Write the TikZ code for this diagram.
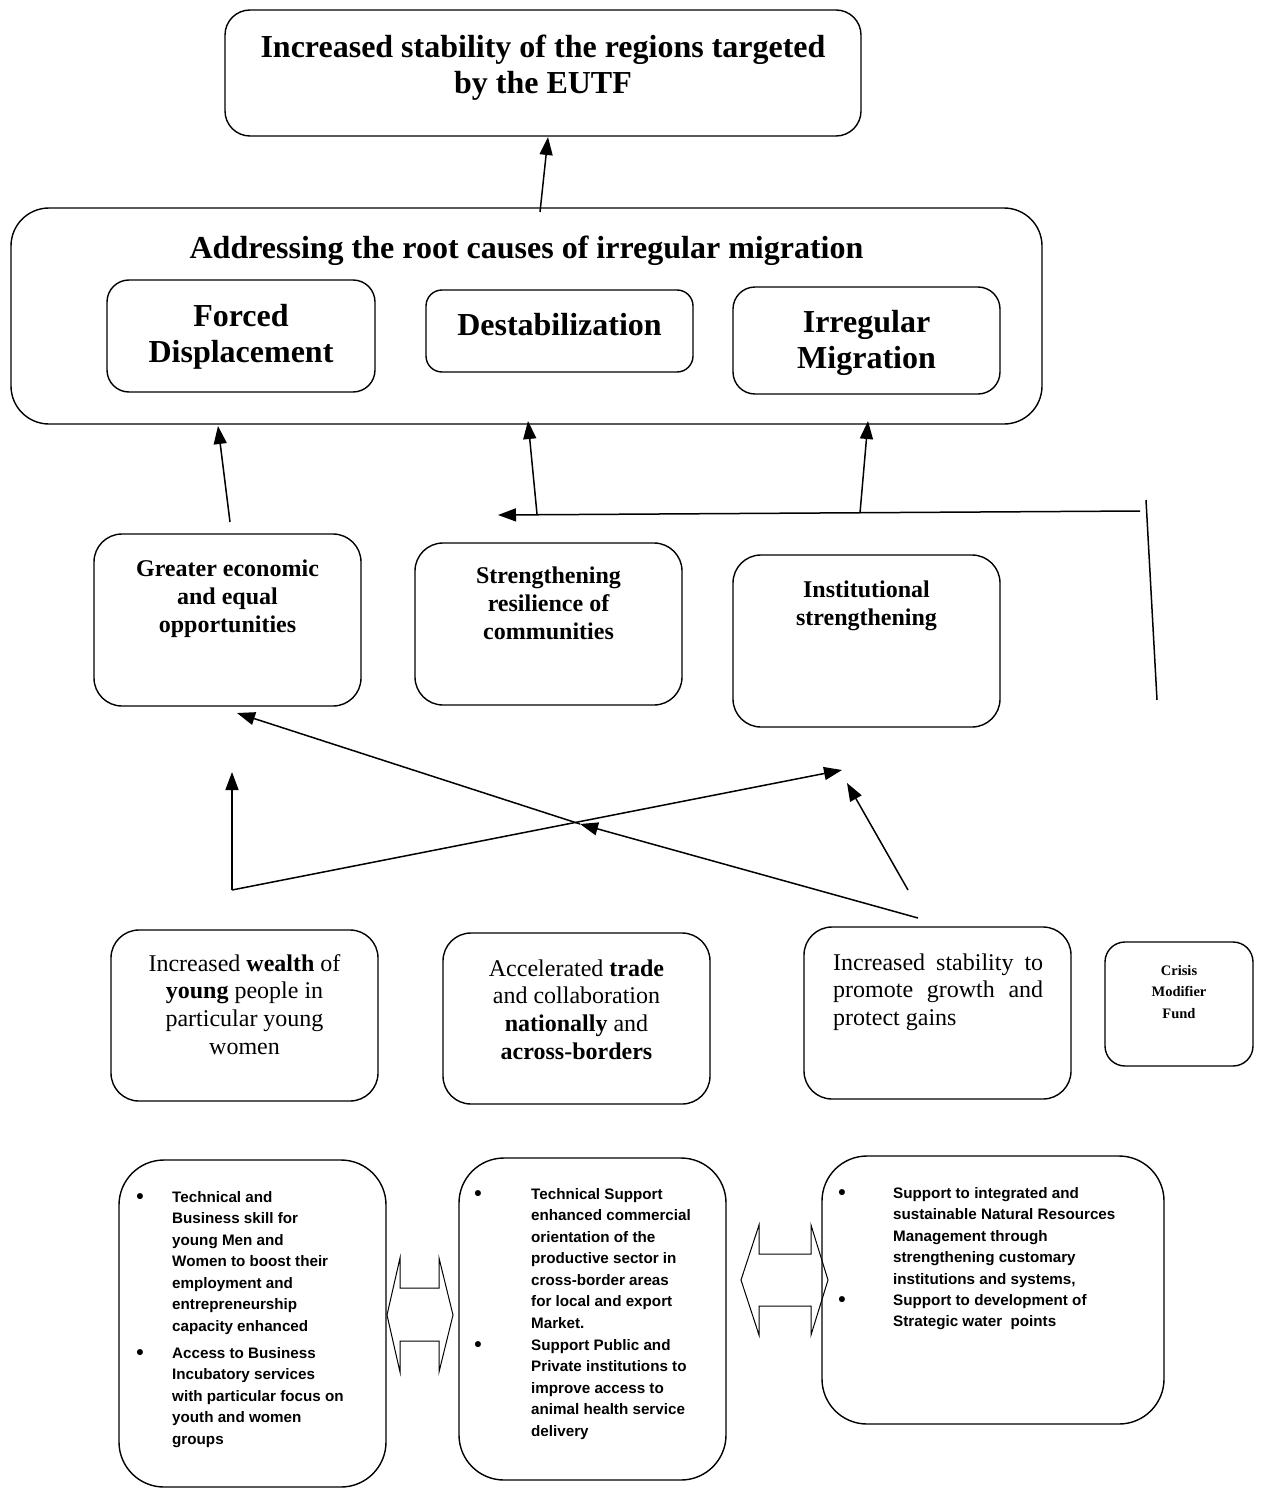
\documentclass[tikz,border=0pt]{standalone}
\usepackage{fontspec}
\setmainfont{Liberation Serif}
\newfontfamily\arialf{Liberation Sans}
\usetikzlibrary{arrows.meta}
\begin{document}
\begin{tikzpicture}[x=1pt,y=-1pt,
  rbox/.style={draw, line width=1.4pt, rounded corners=#1, inner sep=0pt},
  rbox/.default=28pt,
  conn/.style={line width=1.5pt, -{Triangle[length=18pt,width=13pt]}},
  plainline/.style={line width=1.5pt},
  dbl/.style={line width=1pt, line join=miter},
  tbig/.style={font=\fontsize{32}{36}\selectfont\bfseries, align=center, anchor=base, inner sep=0pt},
  tmid/.style={font=\fontsize{24}{28}\selectfont\bfseries, align=center, anchor=base, inner sep=0pt},
  treg/.style={font=\fontsize{24}{27.8}\selectfont, align=center, anchor=base, inner sep=0pt},
  tsmall/.style={font=\fontsize{14.5}{21.5}\selectfont\bfseries, align=center, anchor=base, inner sep=0pt},
  tbul/.style={font=\arialf\bfseries\fontsize{15.2}{21.5}\selectfont, align=left, anchor=base west, inner sep=0pt},
  bulmark/.style={font=\arialf\bfseries\fontsize{21}{21.5}\selectfont, anchor=base, inner sep=0pt}
]
\useasboundingbox (0,0) rectangle (1261,1490);

% ---------- boxes ----------
\node[rbox=25pt, minimum width=636pt, minimum height=126pt] (top) at (543,73) {};
\node[rbox=38pt, minimum width=1031pt, minimum height=216pt] (big) at (526.5,316) {};
\node[rbox=22pt, minimum width=268pt, minimum height=112pt] (fd) at (241,336) {};
\node[rbox=16pt, minimum width=267pt, minimum height=82pt] (de) at (559.5,331) {};
\node[rbox=22pt, minimum width=267pt, minimum height=107pt] (im) at (866.5,340.5) {};
\node[rbox, minimum width=267pt, minimum height=172pt] (ge) at (227.5,620) {};
\node[rbox, minimum width=267pt, minimum height=162pt] (sr) at (548.5,624) {};
\node[rbox, minimum width=267pt, minimum height=172pt] (is) at (866.5,641) {};
\node[rbox, minimum width=267pt, minimum height=171pt] (iw) at (244.5,1015.5) {};
\node[rbox, minimum width=267pt, minimum height=171pt] (at) at (576.5,1018.5) {};
\node[rbox, minimum width=267pt, minimum height=172pt] (st) at (937.5,1013) {};
\node[rbox=20pt, minimum width=148pt, minimum height=124pt] (cm) at (1179,1004) {};
\node[rbox=45pt, minimum width=267pt, minimum height=327pt] (b1) at (252.5,1323.5) {};
\node[rbox=45pt, minimum width=267pt, minimum height=322pt] (b2) at (592.5,1319) {};
\node[rbox=45pt, minimum width=342pt, minimum height=268pt] (b3) at (993,1290) {};

% ---------- texts (base anchor = baseline of the last line) ----------
\node[tbig] (topT) at (543,94) {Increased stability of the regions targeted\\by the EUTF};
\node[tbig] (bigT) at (526.5,258) {Addressing the root causes of irregular migration};
\node[tbig] (fdT) at (241,362) {Forced\\Displacement};
\node[tbig] (deT) at (559.5,335) {Destabilization};
\node[tbig] (imT) at (866.5,368) {Irregular\\Migration};

\node[tmid] (geT) at (227.5,632) {Greater economic\\and equal\\opportunities};
\node[tmid] (srT) at (548.5,639) {Strengthening\\resilience of\\communities};
\node[tmid] (isT) at (866.5,625) {Institutional\\strengthening};

\node[treg] (iwT) at (244.5,1054.4) {Increased \textbf{wealth} of\\\textbf{young} people in\\particular young\\women};
\node[treg] (atT) at (576.5,1059.4) {Accelerated \textbf{trade}\\and collaboration\\\textbf{nationally} and\\\textbf{across-borders}};
\node[treg, anchor=base west, text width=210pt, align=justify] (stT) at (833,970) {Increased stability to\linebreak promote growth and\linebreak protect gains};
\node[tsmall] (cmT) at (1179,1018) {Crisis\\Modifier\\Fund};

% bottom box 1
\node[bulmark] (b1m1) at (140,1203) {\textbullet};
\node[tbul] (b1t1) at (172,1331) {Technical and\\Business skill for\\young Men and\\Women to boost their\\employment and\\entrepreneurship\\capacity enhanced};
\node[bulmark] (b1m2) at (140,1359) {\textbullet};
\node[tbul] (b1t2) at (172,1444) {Access to Business\\Incubatory services\\with particular focus on\\youth and women\\groups};
% bottom box 2
\node[bulmark] (b2m1) at (478,1200) {\textbullet};
\node[tbul] (b2t1) at (531,1328) {Technical Support\\enhanced commercial\\orientation of the\\productive sector in\\cross-border areas\\for local and export\\Market.};
\node[bulmark] (b2m2) at (478,1351) {\textbullet};
\node[tbul] (b2t2) at (531,1436) {Support Public and\\Private institutions to\\improve access to\\animal health service\\delivery};
% bottom box 3
\node[bulmark] (b3m1) at (842,1199) {\textbullet};
\node[tbul] (b3t1) at (893,1284) {Support to integrated and\\sustainable Natural Resources\\Management through\\strengthening customary\\institutions and systems,};
\node[bulmark] (b3m2) at (842,1306) {\textbullet};
\node[tbul] (b3t2) at (893,1326.5) {Support to development of\\Strategic water~ points};

% ---------- connectors ----------
\coordinate (c0s) at (540,212); \coordinate (c0e) at (548,137);
\coordinate (c1s) at (230,522); \coordinate (c1e) at (218,426);
\coordinate (c2s) at (537,514); \coordinate (c2e) at (528,421);
\coordinate (c3s) at (860,513); \coordinate (c3e) at (868,421);
\coordinate (h1s) at (1140,511); \coordinate (h1e) at (498,515);
\coordinate (v1s) at (1146,500); \coordinate (v1e) at (1157,700);
\coordinate (k0) at (232,890); \coordinate (k1) at (232,772); \coordinate (k2) at (842,770);
\coordinate (m0) at (918,918); \coordinate (m1) at (580,824); \coordinate (m2) at (237,713);
\coordinate (n0) at (908,890); \coordinate (n1) at (847,783);

\draw[conn] (c0s) -- (c0e);
\draw[conn] (c1s) -- (c1e);
\draw[conn] (c2s) -- (c2e);
\draw[conn] (c3s) -- (c3e);
\draw[conn] (h1s) -- (h1e);
\draw[plainline] (v1s) -- (v1e);
\draw[conn] (k0) -- (k1);
\draw[conn] (k0) -- (k2);
\draw[conn] (m0) -- (m1);
\draw[conn] (m1) -- (m2);
\draw[conn] (n0) -- (n1);

% ---------- double-headed block arrows ----------
\draw[dbl] (387,1315) -- (400,1258) -- (400,1288) -- (439,1288) -- (439,1258) -- (453,1315)
  -- (439,1372) -- (439,1341) -- (400,1341) -- (400,1372) -- cycle;
\draw[dbl] (741,1280) -- (759,1225) -- (759,1254) -- (811,1254) -- (811,1225) -- (828,1280)
  -- (811,1335) -- (811,1306) -- (759,1306) -- (759,1335) -- cycle;
\end{tikzpicture}
\end{document}
